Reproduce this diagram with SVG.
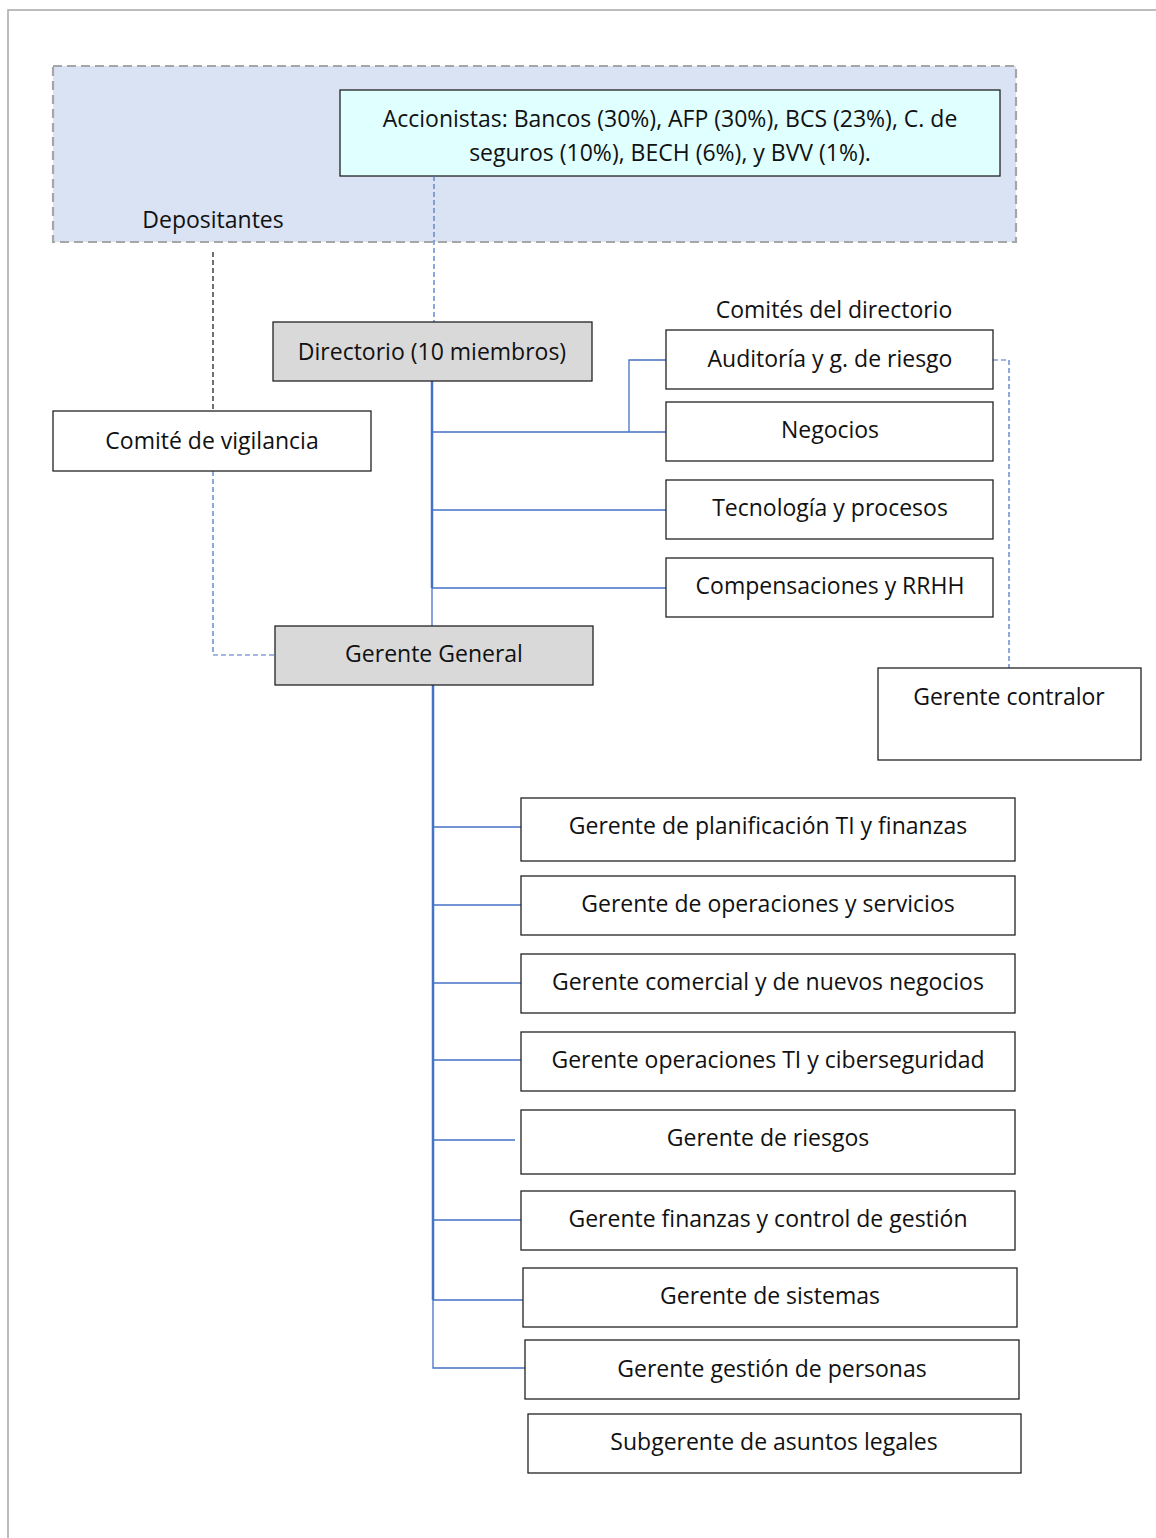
<svg xmlns="http://www.w3.org/2000/svg" width="1156" height="1538" viewBox="0 0 1156 1538">
<style>
text{font-family:"Open Sans","Liberation Sans",Arial,sans-serif;font-size:23px;fill:#111;text-anchor:middle;dominant-baseline:central}
.box{fill:#fff;stroke:#222;stroke-width:1.3}
.gray{fill:#d9d9d9;stroke:#222;stroke-width:1.3}
.ln{fill:none;stroke:#4472c4;stroke-width:1.3}
.thick{fill:none;stroke:#4472c4;stroke-width:2.5}
.dsh{fill:none;stroke:#4472c4;stroke-width:1.2;stroke-dasharray:5 3}
.dshk{fill:none;stroke:#111;stroke-width:1.2;stroke-dasharray:5 3}
</style>
<rect x="0" y="0" width="1156" height="1538" fill="#fff"/>
<path d="M8,1538 V10 H1156" fill="none" stroke="#a6a6a6" stroke-width="1.5"/>

<g id="depositantes">
<rect x="53" y="66" width="963" height="176" fill="#dae3f3" stroke="#a6a6a6" stroke-width="2.2" stroke-dasharray="9 5"/>
<text x="213" y="219">Depositantes</text>
</g>
<g id="accionistas">
<rect x="340" y="90" width="660" height="86" fill="#e0ffff" stroke="#222" stroke-width="1.3"/>
<text x="670" y="118">Accionistas: Bancos (30%), AFP (30%), BCS (23%), C. de</text>
<text x="670" y="152">seguros (10%), BECH (6%), y BVV (1%).</text>
</g>

<g id="connectors">
<path class="dshk" d="M213,252 V411"/>
<path class="dsh" d="M434,176 V322"/>
<path class="dsh" d="M213,471 V655 H275"/>
<path class="dsh" d="M993,360 H1009 V668"/>
<path class="thick" d="M432,381 V588"/>
<path class="ln" d="M432,588 V626"/>
<path class="ln" d="M432,432 H666 M629,432 V360 H666 M432,510 H666 M432,588 H666"/>
<path class="thick" d="M433,685 V1300"/>
<path class="ln" d="M433,1300 V1368 H525"/>
<path class="ln" d="M433,827 H525 M433,905 H521 M433,983 H521 M433,1060 H521 M433,1140 H515 M433,1220 H521 M433,1300 H523"/>
</g>

<text x="834" y="309">Comités del directorio</text>

<g id="directorio"><rect class="gray" x="273" y="322" width="319" height="59"/><text x="432" y="351">Directorio (10 miembros)</text></g>
<g id="auditoria"><rect class="box" x="666" y="330" width="327" height="59"/><text x="830" y="358">Auditoría y g. de riesgo</text></g>
<g id="negocios"><rect class="box" x="666" y="402" width="327" height="59"/><text x="830" y="429">Negocios</text></g>
<g id="tecnologia"><rect class="box" x="666" y="480" width="327" height="59"/><text x="830" y="507">Tecnología y procesos</text></g>
<g id="compensaciones"><rect class="box" x="666" y="558" width="327" height="59"/><text x="830" y="585">Compensaciones y RRHH</text></g>
<g id="vigilancia"><rect class="box" x="53" y="411" width="318" height="60"/><text x="212" y="440">Comité de vigilancia</text></g>
<g id="gerente-general"><rect class="gray" x="275" y="626" width="318" height="59"/><text x="434" y="653">Gerente General</text></g>
<g id="contralor"><rect class="box" x="878" y="668" width="263" height="92"/><text x="1009" y="696">Gerente contralor</text></g>

<g id="g1"><rect class="box" x="521" y="798" width="494" height="63"/><text x="768" y="825">Gerente de planificación TI y finanzas</text></g>
<g id="g2"><rect class="box" x="521" y="876" width="494" height="59"/><text x="768" y="903">Gerente de operaciones y servicios</text></g>
<g id="g3"><rect class="box" x="521" y="954" width="494" height="59"/><text x="768" y="981">Gerente comercial y de nuevos negocios</text></g>
<g id="g4"><rect class="box" x="521" y="1032" width="494" height="59"/><text x="768" y="1059">Gerente operaciones TI y ciberseguridad</text></g>
<g id="g5"><rect class="box" x="521" y="1110" width="494" height="64"/><text x="768" y="1137">Gerente de riesgos</text></g>
<g id="g6"><rect class="box" x="521" y="1191" width="494" height="59"/><text x="768" y="1218">Gerente finanzas y control de gestión</text></g>
<g id="g7"><rect class="box" x="523" y="1268" width="494" height="59"/><text x="770" y="1295">Gerente de sistemas</text></g>
<g id="g8"><rect class="box" x="525" y="1340" width="494" height="59"/><text x="772" y="1368">Gerente gestión de personas</text></g>
<g id="g9"><rect class="box" x="528" y="1414" width="493" height="59"/><text x="774" y="1441">Subgerente de asuntos legales</text></g>
</svg>
